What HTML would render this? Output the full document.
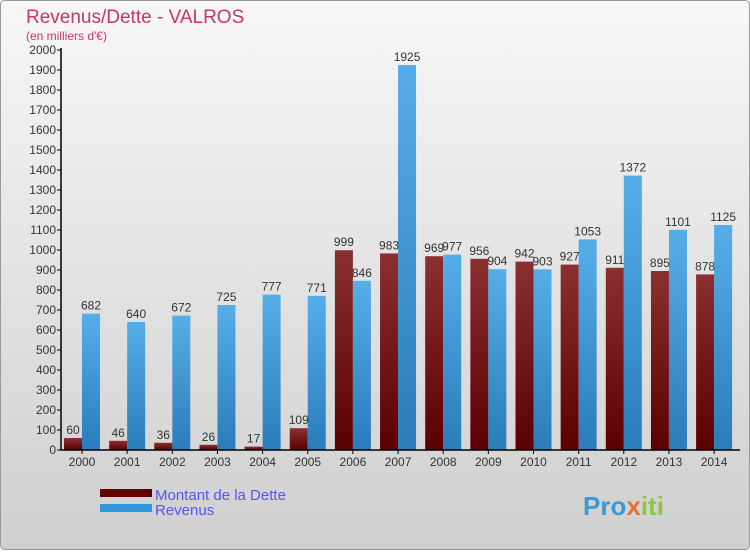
<!DOCTYPE html>
<html><head><meta charset="utf-8"><style>
body{margin:0;width:750px;height:550px;overflow:hidden;font-family:"Liberation Sans",sans-serif}
</style></head><body>
<svg width="750" height="550" xmlns="http://www.w3.org/2000/svg">
<defs>
<linearGradient id="bg" x1="0" y1="0" x2="0" y2="1"><stop offset="0" stop-color="#f7f7f7"/><stop offset="1" stop-color="#cfcfcf"/></linearGradient>
<linearGradient id="gd" x1="0" y1="0" x2="0" y2="1"><stop offset="0" stop-color="#8a3030"/><stop offset="1" stop-color="#5a0000"/></linearGradient>
<linearGradient id="gr" x1="0" y1="0" x2="0" y2="1"><stop offset="0" stop-color="#56aee8"/><stop offset="1" stop-color="#2a7cba"/></linearGradient>
</defs>
<rect x="0.5" y="0.5" width="749" height="549" rx="4" fill="url(#bg)" stroke="#999"/>
<text x="26" y="23" font-size="19" fill="#c8356a">Revenus/Dette - VALROS</text>
<text x="26" y="40" font-size="12" fill="#c8356a">(en milliers d'€)</text>
<g id="yaxis"></g><g id="bars"></g>
<line x1="61" y1="48" x2="61" y2="450" stroke="#000" stroke-width="1.5"/>
<line x1="61" y1="450" x2="740" y2="450" stroke="#000" stroke-width="1.5"/>
<rect x="100" y="489" width="52" height="8" fill="#600000"/>
<rect x="100" y="504" width="52" height="8" fill="#2f95dc"/>
<text x="155" y="500" font-size="15" fill="#5555ee">Montant de la Dette</text>
<text x="155" y="515" font-size="15" fill="#5555ee">Revenus</text>
<text x="583" y="515" font-size="26" font-weight="bold" fill="#3a9ad9">Pro<tspan fill="#e8702a">x</tspan><tspan fill="#8cc63f">iti</tspan></text>
</svg>
<script>
const years=["2000","2001","2002","2003","2004","2005","2006","2007","2008","2009","2010","2011","2012","2013","2014"];
const dette=[60,46,36,26,17,109,999,983,969,956,942,927,911,895,878];
const revenus=[682,640,672,725,777,771,846,1925,977,904,903,1053,1372,1101,1125];
const yTicks=[0,100,200,300,400,500,600,700,800,900,1000,1100,1200,1300,1400,1500,1600,1700,1800,1900,2000];
const NS="http://www.w3.org/2000/svg";
const y0=450,yMax=2000,plotH=400,x0=62,step=45.15,bw=18;
const Y=v=>y0-v/yMax*plotH;
function mk(t,a,p){const e=document.createElementNS(NS,t);for(const k in a)e.setAttribute(k,a[k]);p.appendChild(e);return e;}
const ya=document.getElementById('yaxis'),bars=document.getElementById('bars');
yTicks.forEach(v=>{
 const l=mk('line',{x1:57,x2:61,y1:Y(v),y2:Y(v),stroke:'#000'},ya);
 
 
 const t=mk('text',{x:56,y:Y(v)+4,'font-size':12,'text-anchor':'end',fill:'#333'},ya);
 t.textContent=v;
 
 
});
years.forEach((yr,i)=>{
 const gx=x0+i*step;
 const d=mk('rect',{x:gx+2,y:Y(dette[i]),width:bw,height:y0-Y(dette[i]),fill:'url(#gd)'},bars);
 
 
 const r=mk('rect',{x:gx+2+bw,y:Y(revenus[i]),width:bw,height:y0-Y(revenus[i]),fill:'url(#gr)'},bars);
 
 
 const dl=mk('text',{x:gx+2+bw/2,y:Y(dette[i])-4,'font-size':12,'text-anchor':'middle',fill:'#333'},bars);
 dl.textContent=dette[i];
 
 
 const rl=mk('text',{x:gx+2+bw*1.5,y:Y(revenus[i])-4,'font-size':12,'text-anchor':'middle',fill:'#333'},bars);
 rl.textContent=revenus[i];
 
 
 const tk=mk('line',{x1:gx+2+bw,x2:gx+2+bw,y1:450,y2:454,stroke:'#000'},bars);
 
 
 const xl=mk('text',{x:gx+2+bw,y:466,'font-size':12,'text-anchor':'middle',fill:'#333'},bars);
 xl.textContent=yr;
 
 
});
</script>
</body></html>
